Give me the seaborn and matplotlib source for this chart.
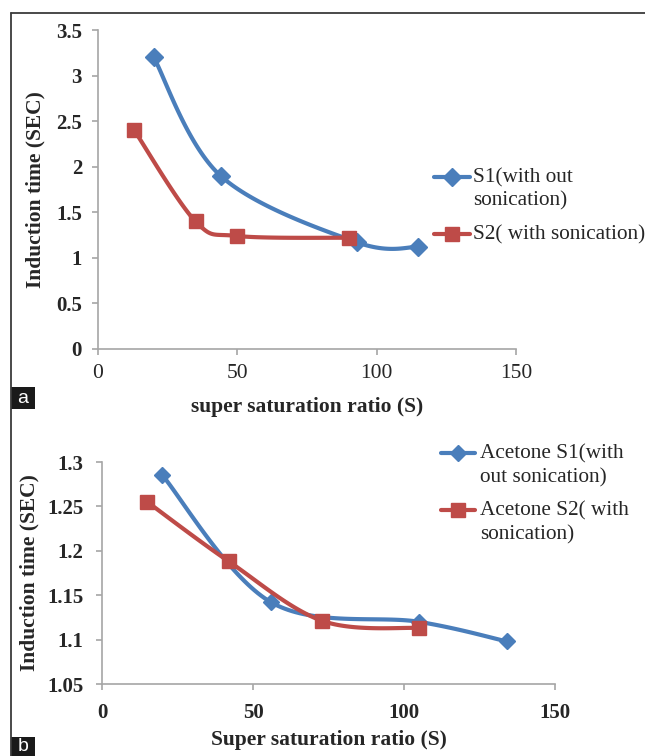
import numpy as np
import matplotlib
matplotlib.use("Agg")
import matplotlib.pyplot as plt
import seaborn as sns
from matplotlib.lines import Line2D
from matplotlib.patches import Rectangle

sns.set_style("white")
plt.rcParams["font.family"] = ["Liberation Serif", "DejaVu Serif"]

# Panel a: induction time vs super saturation ratio
a_s1_x = [20, 44, 93, 115]
a_s1_y = [3.2, 1.9, 1.17, 1.12]
a_s2_x = [13, 35, 50, 90]
a_s2_y = [2.4, 1.4, 1.24, 1.22]
a_labels = ["S1(with out\nsonication)", "S2( with sonication)"]
a_xticks = [0, 50, 100, 150]
a_yticks = [0, 0.5, 1, 1.5, 2, 2.5, 3, 3.5]

# Panel b: acetone
b_s1_x = [20, 56, 105, 134]
b_s1_y = [1.285, 1.142, 1.120, 1.098]
b_s2_x = [15, 42, 73, 105]
b_s2_y = [1.255, 1.188, 1.121, 1.113]
b_labels = ["Acetone S1(with\nout sonication)", "Acetone S2( with\nsonication)"]
b_xticks = [0, 50, 100, 150]
b_yticks = [1.05, 1.1, 1.15, 1.2, 1.25, 1.3]

BLUE = "#4A7EBB"
RED = "#BE4B48"
GRAY = "#A6A6A6"


def smooth(x, y, sx, sy, n=40):
    # excel style smoothed line (bezier through the points), done in pixel space
    p = np.column_stack([np.array(x, float) * sx, np.array(y, float) * sy])
    out = []
    t = np.linspace(0, 1, n)[:, None]
    for i in range(len(p) - 1):
        p0 = p[i - 1] if i > 0 else p[i]
        p3 = p[i + 2] if i + 2 < len(p) else p[i + 1]
        c1 = p[i] + (p[i + 1] - p0) / 6
        c2 = p[i + 1] - (p3 - p[i]) / 6
        seg = (1 - t) ** 3 * p[i] + 3 * (1 - t) ** 2 * t * c1 + 3 * (1 - t) * t ** 2 * c2 + t ** 3 * p[i + 1]
        out.append(seg if i == 0 else seg[1:])
    out = np.vstack(out)
    return out[:, 0] / sx, out[:, 1] / sy


def draw_series(ax, x, y, sx, sy, color, marker, ms):
    cx, cy = smooth(x, y, sx, sy)
    sns.lineplot(x=cx, y=cy, sort=False, estimator=None, color=color, lw=3, ax=ax)
    ax.plot(x, y, linestyle="none", marker=marker, ms=ms, color=color, mec=color)


def style_axes(ax, xticks, yticks, ylim, xbold):
    ax.set_xlim(0, 150)
    ax.set_ylim(*ylim)
    ax.set_xticks(xticks)
    ax.set_yticks(yticks)
    ax.set_yticklabels([f"{v:g}" for v in yticks], fontweight="bold", fontsize=15)
    ax.set_xticklabels([f"{v:g}" for v in xticks], fontweight="bold" if xbold else "normal",
                       fontsize=15 if xbold else 15.5)
    for s in ["top", "right"]:
        ax.spines[s].set_visible(False)
    for s in ["left", "bottom"]:
        ax.spines[s].set_color(GRAY)
        ax.spines[s].set_linewidth(1.2)
    ax.tick_params(axis="both", direction="out", length=4.5, width=1.2, color=GRAY,
                   left=True, bottom=True)


fig = plt.figure(figsize=(6.45, 7.56), dpi=100)
W, H = 645, 756

# panel a axes: x 98..516 px, y 30..349 px
ax1 = fig.add_axes([98 / W, 1 - 349 / H, 418 / W, 319 / H])
draw_series(ax1, a_s1_x, a_s1_y, 418 / 150, 319 / 3.5, BLUE, "D", 9)
draw_series(ax1, a_s2_x, a_s2_y, 418 / 150, 319 / 3.5, RED, "s", 10)
style_axes(ax1, a_xticks, a_yticks, (0, 3.5), xbold=False)
ax1.tick_params(axis="y", pad=7)
ax1.tick_params(axis="x", pad=6)
ax1.set_xlabel("super saturation ratio (S)", fontsize=15.5, fontweight="bold")
ax1.set_ylabel("Induction time (SEC)", fontsize=15.5, fontweight="bold")
ax1.xaxis.set_label_coords(0.5, -0.152)
ax1.yaxis.set_label_coords(-0.125, 0.5)

# panel b axes: x 102..555 px, y 462..684 px
ax2 = fig.add_axes([102 / W, 1 - 684 / H, 453 / W, 222 / H])
draw_series(ax2, b_s1_x, b_s1_y, 453 / 150, 222 / 0.25, BLUE, "D", 8)
draw_series(ax2, b_s2_x, b_s2_y, 453 / 150, 222 / 0.25, RED, "s", 10)
style_axes(ax2, b_xticks, b_yticks, (1.05, 1.3), xbold=True)
ax2.tick_params(axis="y", pad=9)
ax2.tick_params(axis="x", pad=9)
ax2.set_xlabel("Super saturation ratio (S)", fontsize=15.5, fontweight="bold")
ax2.set_ylabel("Induction time (SEC)", fontsize=15.5, fontweight="bold")
ax2.xaxis.set_label_coords(0.5, -0.205)
ax2.yaxis.set_label_coords(-0.137, 0.5)

# legends (positions from the reference in pixels -> axes fractions),
# handle sits on the first text line like in excel
for ax, labels, px0, px1, ptx, pys, ms, box in [
    (ax1, a_labels, 434, 470, 473, [176.5, 234], [9, 10], (98, 30, 418, 319)),
    (ax2, b_labels, 441, 475, 480, [453, 510], [8, 10], (102, 462, 453, 222)),
]:
    bx, by, bw, bh = box
    for lab, py, color, marker, m in zip(labels, pys, [BLUE, RED], ["D", "s"], ms):
        yy = (by + bh - py) / bh
        x0 = (px0 - bx) / bw
        x1 = (px1 - bx) / bw
        ax.add_line(Line2D([x0, x1], [yy, yy], color=color, lw=3, transform=ax.transAxes, clip_on=False))
        ax.add_line(Line2D([(x0 + x1) / 2], [yy], color=color, marker=marker, ms=m, mec=color,
                           linestyle="none", transform=ax.transAxes, clip_on=False))
        ax.text((ptx - bx) / bw, yy + 8.5 / bh, lab, transform=ax.transAxes, fontsize=15.3,
                ha="left", va="top", linespacing=1.3)

# outer frame lines
fig.add_artist(Line2D([11 / W, 1], [1 - 12.5 / H, 1 - 12.5 / H], color="#3a3a3a", lw=1.3))
fig.add_artist(Line2D([11 / W, 11 / W], [0, 1 - 12.5 / H], color="#3a3a3a", lw=1.3))

# panel letters
for letter, y0, y1 in [("a", 387, 409), ("b", 737, 756)]:
    fig.add_artist(Rectangle((11 / W, 1 - y1 / H), 24 / W, (y1 - y0) / H,
                             transform=fig.transFigure, color="#1a1a1a", lw=0))
    fig.text(23 / W, 1 - (y0 + y1) / 2 / H, letter, color="white", fontsize=14,
             ha="center", va="center", family=["Liberation Sans", "DejaVu Sans"])

fig.savefig("out.png", dpi=100)
